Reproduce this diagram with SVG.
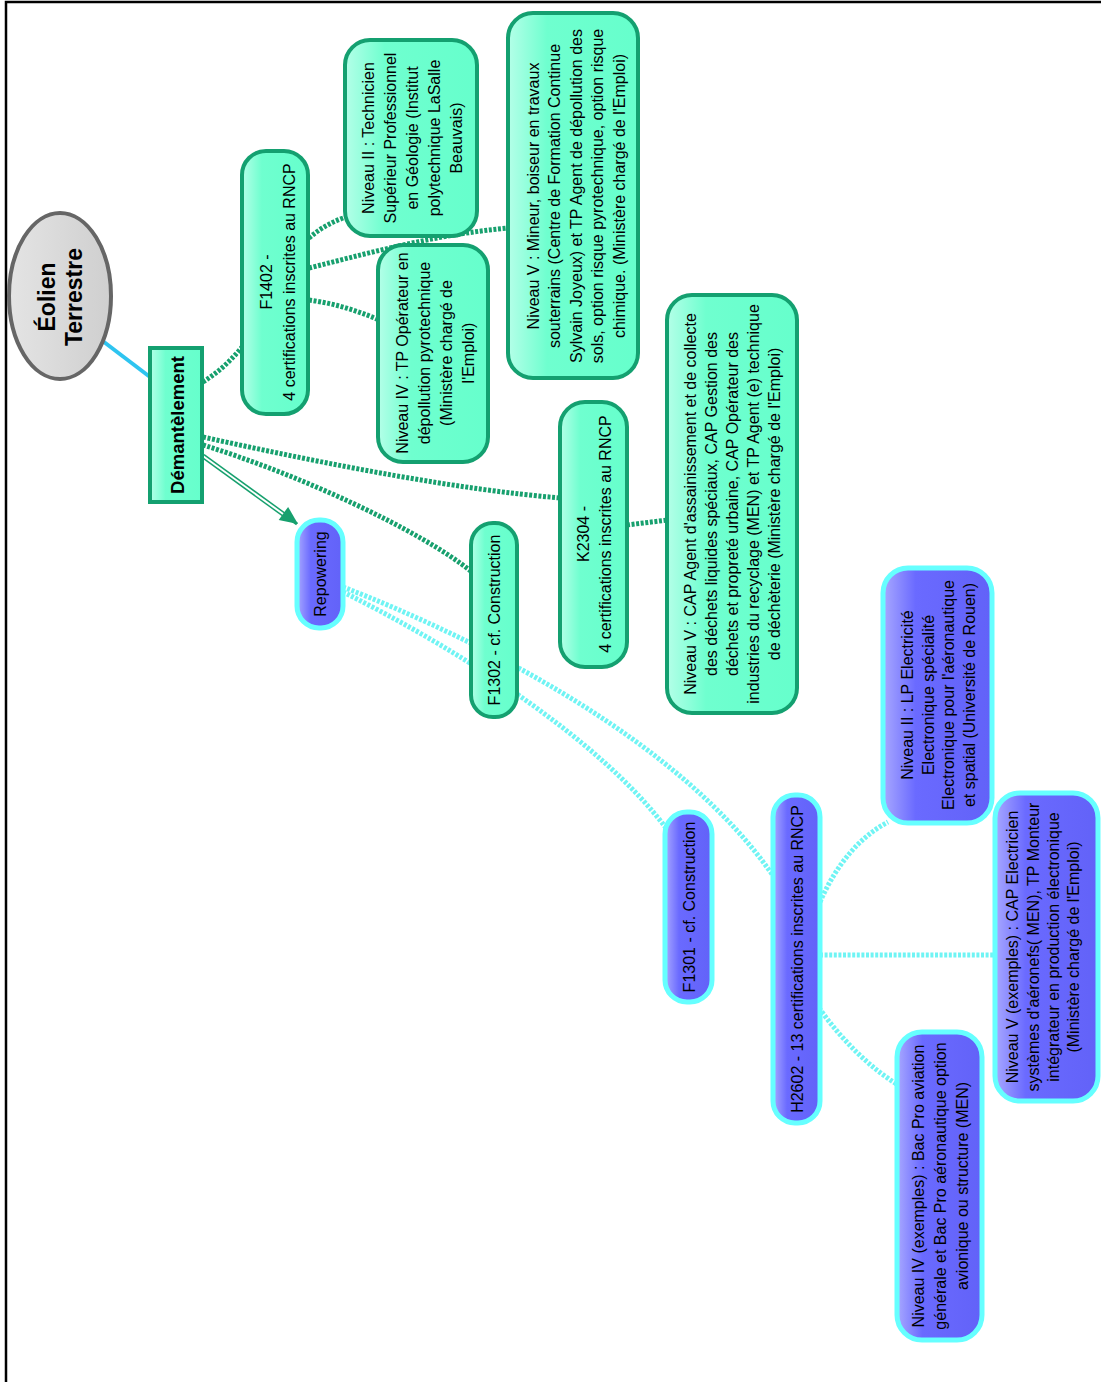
<svg xmlns="http://www.w3.org/2000/svg" width="1101" height="1382" viewBox="0 0 1101 1382">
<defs>
<linearGradient id="gG" x1="0" y1="0" x2="1" y2="0">
<stop offset="0" stop-color="#b4ffe8"/><stop offset="0.3" stop-color="#6fffcf"/><stop offset="1" stop-color="#66ffcc"/>
</linearGradient>
<linearGradient id="gB" x1="0" y1="0" x2="1" y2="0">
<stop offset="0" stop-color="#a8a8ff"/><stop offset="0.3" stop-color="#6a6aff"/><stop offset="1" stop-color="#6262f8"/>
</linearGradient>
<linearGradient id="gE" x1="0" y1="0" x2="1" y2="0">
<stop offset="0" stop-color="#e4e4e4"/><stop offset="1" stop-color="#cfcfcf"/>
</linearGradient>
</defs>
<style>
.gn{fill:url(#gG);stroke:#14a070;stroke-width:4}
.bn{fill:url(#gB);stroke:#66ffff;stroke-width:5}
.t{font-family:"Liberation Sans",Arial,sans-serif;font-size:16px;fill:#000;text-anchor:middle;dominant-baseline:central}
.tb{font-family:"Liberation Sans",Arial,sans-serif;font-weight:bold;fill:#000;text-anchor:middle;dominant-baseline:central}
.gd{fill:none;stroke:#17a06e;stroke-width:5;stroke-dasharray:3 1.6}
.cd{fill:none;stroke:#70f4f4;stroke-width:5;stroke-dasharray:3 1.6}
</style>
<rect x="0" y="0" width="1101" height="1382" fill="#fff"/>
<path d="M6,1382 L6,2 L1101,2" fill="none" stroke="#000" stroke-width="2.5"/>

<g id="connectors">
<path d="M104,342 L150,377" fill="none" stroke="#2ec4f0" stroke-width="4"/>
<path class="gd" d="M203,382 Q225,368 242,347"/>
<path class="gd" d="M309,238 Q325,224 346,217"/>
<path class="gd" d="M309,268 C380,250 440,234 509,228"/>
<path class="gd" d="M309,300 Q345,305 379,320"/>
<path class="gd" d="M203,437 C330,465 460,490 561,498"/>
<path class="gd" d="M203,445 C300,475 420,530 472,572"/>
<path class="gd" d="M627,525 L668,520"/>
<path d="M203,456 L290,519" fill="none" stroke="#17a06e" stroke-width="5"/>
<path d="M203,456 L290,519" fill="none" stroke="#fff" stroke-width="2"/>
<path d="M290,519 L297,524" fill="none" stroke="#17a06e" stroke-width="3"/>
<polygon points="298,524 278.7,519.9 288.1,506.9" fill="#17a06e"/>
<path class="cd" d="M343,592 C460,650 600,740 666,828"/>
<path class="cd" d="M343,587 C480,640 680,740 774,877"/>
<path class="cd" d="M820,902 Q845,845 888,822"/>
<path class="cd" d="M820,955 L996,955"/>
<path class="cd" d="M819,1008 Q855,1058 898,1085"/>
</g>

<g id="eolien">
<ellipse cx="60" cy="296" rx="51" ry="83" fill="url(#gE)" stroke="#666" stroke-width="4"/>
<g transform="translate(60,297) rotate(-90)">
<text class="tb" style="font-size:23px" x="0" y="-13">Éolien</text>
<text class="tb" style="font-size:23px" x="0" y="14">Terrestre</text>
</g>
</g>

<g id="demantelement">
<rect class="gn" x="150" y="348" width="52" height="154"/>
<text class="tb" style="font-size:18.5px" transform="translate(177,425) rotate(-90)" x="0" y="0">Démantèlement</text>
</g>

<g id="f1402">
<rect class="gn" x="242" y="151" width="66" height="263" rx="24"/>
<g transform="translate(0,282) rotate(-90)">
<text class="t" x="0" y="266">F1402 -</text>
<text class="t" x="0" y="289">4 certifications inscrites au RNCP</text>
</g>
</g>

<g id="niv2-geologie">
<rect class="gn" x="345" y="40" width="132" height="196" rx="25"/>
<g transform="translate(0,138) rotate(-90)">
<text class="t" x="0" y="368">Niveau II : Technicien</text>
<text class="t" x="0" y="390">Supérieur Professionnel</text>
<text class="t" x="0" y="412">en Géologie (Institut</text>
<text class="t" x="0" y="434">polytechnique LaSalle</text>
<text class="t" x="0" y="456">Beauvais)</text>
</g>
</g>

<g id="niv5-mineur">
<rect class="gn" x="508" y="13" width="130" height="365" rx="25"/>
<g transform="translate(0,196) rotate(-90)">
<text class="t" x="0" y="533">Niveau V : Mineur, boiseur en travaux</text>
<text class="t" x="0" y="554.5">souterrains (Centre de Formation Continue</text>
<text class="t" x="0" y="576">Sylvain Joyeux) et TP Agent de dépollution des</text>
<text class="t" x="0" y="597.5">sols, option risque pyrotechnique, option risque</text>
<text class="t" x="0" y="619">chimique. (Ministère chargé de l'Emploi)</text>
</g>
</g>

<g id="niv4-pyro">
<rect class="gn" x="378" y="245" width="110" height="217" rx="25"/>
<g transform="translate(0,353) rotate(-90)">
<text class="t" x="0" y="402">Niveau IV : TP Opérateur en</text>
<text class="t" x="0" y="424">dépollution pyrotechnique</text>
<text class="t" x="0" y="446">(Ministère chargé de</text>
<text class="t" x="0" y="468">l'Emploi)</text>
</g>
</g>

<g id="k2304">
<rect class="gn" x="560" y="402" width="67" height="265" rx="25"/>
<g transform="translate(0,534) rotate(-90)">
<text class="t" x="0" y="583">K2304 -</text>
<text class="t" x="0" y="605">4 certifications inscrites au RNCP</text>
</g>
</g>

<g id="niv5-cap-agent">
<rect class="gn" x="667" y="295" width="130" height="418" rx="25"/>
<g transform="translate(0,504) rotate(-90)">
<text class="t" x="0" y="690">Niveau V : CAP Agent d'assainissement et de collecte</text>
<text class="t" x="0" y="711">des déchets liquides spéciaux, CAP Gestion des</text>
<text class="t" x="0" y="732">déchets et propreté urbaine, CAP Opérateur des</text>
<text class="t" x="0" y="753">industries du recyclage (MEN) et TP Agent (e) technique</text>
<text class="t" x="0" y="774">de déchèterie (Ministère chargé de l'Emploi)</text>
</g>
</g>

<g id="f1302">
<rect class="gn" x="471" y="523" width="46" height="194" rx="22"/>
<text class="t" transform="translate(494,620) rotate(-90)" x="0" y="0">F1302 - cf. Construction</text>
</g>

<g id="repowering">
<rect class="bn" x="297" y="520" width="46" height="108" rx="22"/>
<text class="t" transform="translate(320,574) rotate(-90)" x="0" y="0">Repowering</text>
</g>

<g id="f1301">
<rect class="bn" x="665" y="812" width="47" height="190" rx="22"/>
<text class="t" transform="translate(689,907) rotate(-90)" x="0" y="0">F1301 - cf. Construction</text>
</g>

<g id="h2602">
<rect class="bn" x="773" y="795" width="47" height="328" rx="22"/>
<text class="t" transform="translate(797,959) rotate(-90)" x="0" y="0">H2602 - 13 certifications inscrites au RNCP</text>
</g>

<g id="niv2-lp">
<rect class="bn" x="883" y="568" width="109" height="255" rx="25"/>
<g transform="translate(0,695) rotate(-90)">
<text class="t" x="0" y="907">Niveau II : LP Electricité</text>
<text class="t" x="0" y="928">Electronique spécialité</text>
<text class="t" x="0" y="948">Electronique pour l'aéronautique</text>
<text class="t" x="0" y="969">et spatial (Université de Rouen)</text>
</g>
</g>

<g id="niv5-cap-elec">
<rect class="bn" x="995" y="793" width="103" height="308" rx="25"/>
<g transform="translate(0,947) rotate(-90)">
<text class="t" x="0" y="1012">Niveau V (exemples) : CAP Electricien</text>
<text class="t" x="0" y="1033">systèmes d'aéronefs( MEN), TP Monteur</text>
<text class="t" x="0" y="1053">intégrateur en production électronique</text>
<text class="t" x="0" y="1073">(Ministère chargé de l'Emploi)</text>
</g>
</g>

<g id="niv4-bacpro">
<rect class="bn" x="897" y="1032" width="85" height="308" rx="25"/>
<g transform="translate(0,1186) rotate(-90)">
<text class="t" x="0" y="918">Niveau IV (exemples) : Bac Pro aviation</text>
<text class="t" x="0" y="940">générale et Bac Pro aéronautique option</text>
<text class="t" x="0" y="962">avionique ou structure (MEN)</text>
</g>
</g>
</svg>
